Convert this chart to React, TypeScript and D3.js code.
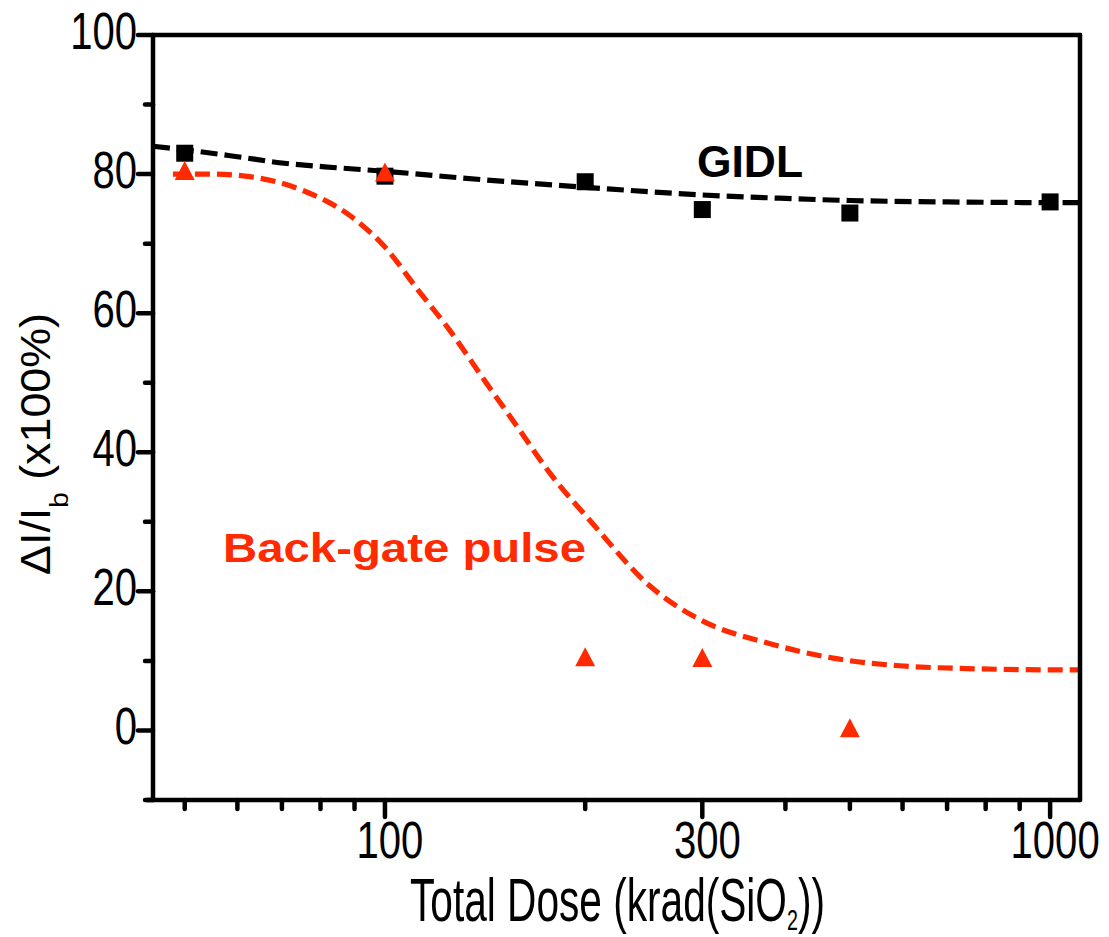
import React, { useLayoutEffect, useRef, useState } from "react";
import * as d3 from "d3";

// ---- data ----
const gidlDoses = [50, 100, 200, 300, 500, 1000];
const gidlValues = [83.0, 79.7, 78.9, 74.9, 74.4, 76.0];

const backGateDoses = [50, 100, 200, 300, 500];
const backGateValues = [80.5, 80.3, 10.6, 10.5, 0.4];

const gidlFitDoses = [44.8, 50, 60, 70, 85, 100, 140, 200, 300, 400, 500, 700, 1000, 1109];
const gidlFitValues = [84.0, 83.5, 82.5, 81.6, 80.9, 80.4, 79.2, 78.1, 77.0, 76.5, 76.2, 76.0, 75.9, 75.9];

const backFitDoses = [48, 55, 63, 75, 89, 100, 112, 125, 141, 158, 177, 205, 250, 298, 375, 472, 594, 749, 900, 1109];
const backFitValues = [80.0, 80.0, 79.6, 77.7, 73.9, 69.5, 63.4, 57.6, 50.4, 43.7, 37.0, 29.8, 20.8, 15.9, 12.6, 10.4, 9.3, 8.9, 8.75, 8.7];

const xMajorTicks = [100, 300, 1000];
const xMinorTicks = [50, 60, 70, 80, 90, 200, 400, 500, 600, 700, 800, 900];
const yMajorTicks = [0, 20, 40, 60, 80, 100];
const yMinorTicks = [-10, 10, 30, 50, 70, 90];

const RED = "#ff2a00";
const FONT = "'Liberation Sans', Arial, Helvetica, sans-serif";

type FitProps = {
  x: number;
  y: number;
  width: number;
  anchor?: "start" | "middle" | "end";
  rotate?: number;
  fontSize: number;
  fill?: string;
  fontWeight?: string | number;
  children: React.ReactNode;
};

function FitText({ x, y, width, anchor = "start", rotate = 0, fontSize, fill = "#000", fontWeight = "normal", children }: FitProps) {
  const ref = useRef<SVGTextElement>(null);
  const [s, setS] = useState(1);
  useLayoutEffect(() => {
    if (ref.current) {
      const w = ref.current.getBBox().width;
      if (w > 0) setS(width / w);
    }
  }, [width]);
  return (
    <g transform={`translate(${x},${y}) rotate(${rotate}) scale(${s},1)`}>
      <text ref={ref} x={0} y={0} textAnchor={anchor} fontSize={fontSize} fill={fill} fontWeight={fontWeight} fontFamily={FONT}>
        {children}
      </text>
    </g>
  );
}

export default function App() {
  const W = 1109;
  const H = 937;
  const left = 153;
  const right = 1080;
  const top = 35;
  const bottom = 800;

  const x = d3.scaleLog().domain([44.8, 1109]).range([left, right]);
  const y = d3.scaleLinear().domain([-10, 100]).range([bottom, top]);

  const line = d3
    .line<[number, number]>()
    .x((d) => x(d[0]))
    .y((d) => y(d[1]))
    .curve(d3.curveMonotoneX);

  const gidlFit = gidlFitDoses.map((d, i) => [d, gidlFitValues[i]] as [number, number]);
  const backFit = backFitDoses.map((d, i) => [d, backFitValues[i]] as [number, number]);

  const sw = 4.5;
  const tickScale = 0.77;
  const sq = 17;
  const triW = 20;
  const triH = 19;

  return (
    <svg width={W} height={H} viewBox={`0 0 ${W} ${H}`} style={{ position: "absolute", left: 0, top: 0, background: "#fff" }}>
      <rect x={0} y={0} width={W} height={H} fill="#fff" />

      {/* fit curves */}
      <path d={line(gidlFit) || ""} fill="none" stroke="#000" strokeWidth={5.2} strokeDasharray="17 7" />
      <path d={line(backFit) || ""} fill="none" stroke={RED} strokeWidth={5.2} strokeDasharray="15 7" />

      {/* GIDL squares */}
      {gidlDoses.map((d, i) => (
        <rect key={"s" + i} x={x(d) - sq / 2} y={y(gidlValues[i]) - sq / 2} width={sq} height={sq} fill="#000" />
      ))}

      {/* back-gate triangles */}
      {backGateDoses.map((d, i) => {
        const cx = x(d);
        const cy = y(backGateValues[i]);
        return (
          <path
            key={"t" + i}
            d={`M${cx - triW / 2},${cy + triH / 2}L${cx + triW / 2},${cy + triH / 2}L${cx},${cy - triH / 2}Z`}
            fill={RED}
          />
        );
      })}

      {/* frame */}
      <g stroke="#000" strokeWidth={sw} strokeLinecap="round" fill="none">
        <line x1={left} y1={top} x2={left} y2={bottom} />
        <line x1={left - 6} y1={bottom} x2={right} y2={bottom} />
        <line x1={left} y1={top} x2={right} y2={top} />
        <line x1={right} y1={top} x2={right} y2={bottom} />
        {yMajorTicks.map((t) => (
          <line key={"ym" + t} x1={left - 15} y1={y(t)} x2={left} y2={y(t)} />
        ))}
        {yMinorTicks.map((t) => (
          <line key={"yn" + t} x1={left - 8} y1={y(t)} x2={left} y2={y(t)} />
        ))}
        {xMajorTicks.map((t) => (
          <line key={"xm" + t} x1={x(t)} y1={bottom} x2={x(t)} y2={bottom + 17} />
        ))}
        {xMinorTicks.map((t) => (
          <line key={"xn" + t} x1={x(t)} y1={bottom} x2={x(t)} y2={bottom + 9} />
        ))}
      </g>

      {/* y tick labels */}
      {yMajorTicks.map((t) => (
        <text
          key={"yl" + t}
          transform={`translate(137,${y(t) + 13.5}) scale(${tickScale},1)`}
          textAnchor="end"
          fontSize={52}
          fontFamily={FONT}
          fill="#000"
        >
          {t}
        </text>
      ))}

      {/* x tick labels */}
      {xMajorTicks.map((t) => (
        <text
          key={"xl" + t}
          transform={`translate(${x(t) + 5},858) scale(${tickScale},1)`}
          textAnchor="middle"
          fontSize={52}
          fontFamily={FONT}
          fill="#000"
        >
          {t}
        </text>
      ))}

      {/* axis titles */}
      <FitText x={410} y={921} width={415} fontSize={62}>
        Total Dose (krad(SiO
        <tspan dy={9} fontSize={30}>2</tspan>
        <tspan dy={-9}>))</tspan>
      </FitText>

      <FitText x={50} y={444} width={262} anchor="middle" rotate={-90} fontSize={42}>
        ΔI/I
        <tspan dy={18} fontSize={26}>b</tspan>
        <tspan dy={-18}> (x100%)</tspan>
      </FitText>

      {/* series labels */}
      <text x={697} y={177} fontSize={44} fontWeight="bold" fontFamily={FONT} fill="#000" textLength={106} lengthAdjust="spacingAndGlyphs">
        GIDL
      </text>
      <text x={223} y={562} fontSize={41} fontWeight="bold" fontFamily={FONT} fill={RED} textLength={363} lengthAdjust="spacingAndGlyphs">
        Back-gate pulse
      </text>
    </svg>
  );
}
